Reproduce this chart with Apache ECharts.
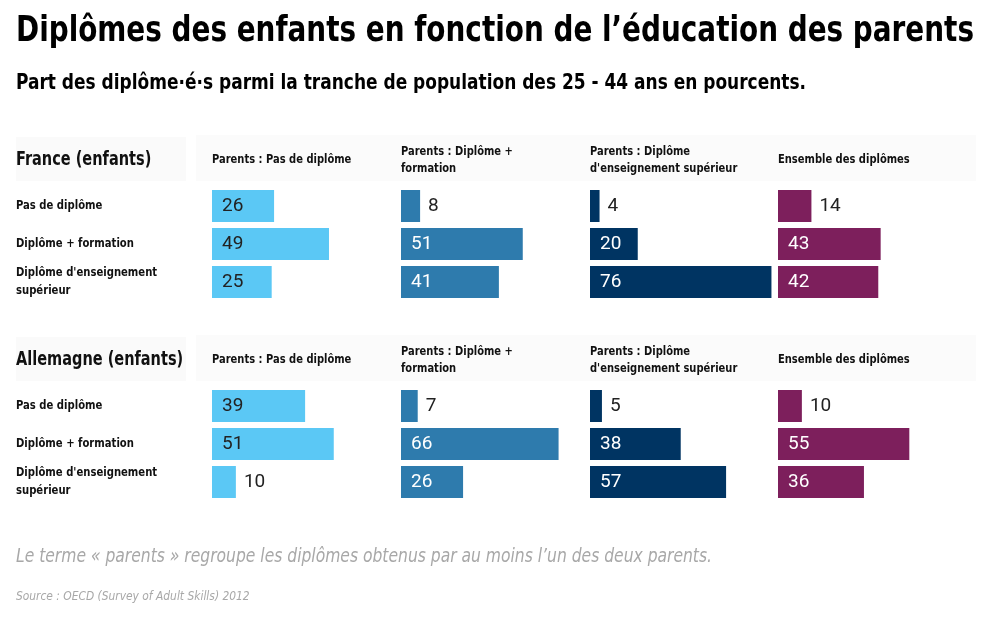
<!DOCTYPE html>
<html>
<head>
<meta charset="utf-8">
<script src="https://cdn.jsdelivr.net/npm/echarts@6/dist/echarts.min.js"></script>
<style>
  html, body { margin: 0; padding: 0; background: #fff; }
  #chart { width: 983px; height: 620px; }
</style>
</head>
<body>
<div id="chart"></div>
<script>
// categories (rows) and columns
var rowLabels = ['Pas de diplôme', 'Diplôme + formation', 'Diplôme d\'enseignement\nsupérieur']
var columnLabels = [
  'Parents : Pas de diplôme',
  'Parents : Diplôme +\nformation',
  'Parents : Diplôme\nd\'enseignement supérieur',
  'Ensemble des diplômes'
]
var countryLabels = ['France (enfants)', 'Allemagne (enfants)']

// France
var frParentsSansDiplome = [26, 49, 25]
var frParentsFormation = [8, 51, 41]
var frParentsSuperieur = [4, 20, 76]
var frEnsemble = [14, 43, 42]

// Allemagne
var deParentsSansDiplome = [39, 51, 10]
var deParentsFormation = [7, 66, 26]
var deParentsSuperieur = [5, 38, 57]
var deEnsemble = [10, 55, 36]

var colors = ['#5bc8f5', '#2e7bad', '#003462', '#7d1f5c']
var labelColors = ['#222', '#fff', '#fff', '#fff']

var panels = [
  [frParentsSansDiplome, frParentsFormation, frParentsSuperieur, frEnsemble],
  [deParentsSansDiplome, deParentsFormation, deParentsSuperieur, deEnsemble]
]

var font = '"DejaVu Sans Condensed", "DejaVu Sans", sans-serif'
var colLeft = [212, 401, 590, 778]
var panelTop = [187, 387]

var grids = []
var xAxes = []
var yAxes = []
var series = []
var graphics = []

// condensed text: DejaVu squeezed horizontally
function txt(x, y, text, size, opts) {
  opts = opts || {}
  return {
    type: 'text', x: x, y: y, scaleX: opts.scale || 0.86, z: 10,
    style: {
      text: text,
      font: (opts.style || 'bold') + ' ' + size + 'px ' + font,
      fill: opts.color || '#111',
      lineHeight: opts.lineHeight || size * 1.3,
      align: 'left',
      verticalAlign: 'middle'
    }
  }
}

panels.forEach(function (cols, p) {
  var top = panelTop[p]
  // faint header bands
  graphics.push({
    type: 'rect', x: 16, y: top - 50, z: -1,
    shape: { width: 170, height: 44 }, style: { fill: '#fafafa' }
  })
  graphics.push({
    type: 'rect', x: 196, y: top - 52, z: -1,
    shape: { width: 780, height: 46 }, style: { fill: '#fbfbfb' }
  })
  graphics.push(txt(16, top - 27, countryLabels[p], 19, { scale: 0.85 }))
  rowLabels.forEach(function (r, i) {
    graphics.push(txt(16, top + 19 + i * 38, r, 13, { scale: 0.86, lineHeight: 18 }))
  })
  cols.forEach(function (values, c) {
    var idx = grids.length
    grids.push({ left: colLeft[c], top: top, width: 191, height: 114 })
    xAxes.push({ gridIndex: idx, type: 'value', min: 0, max: 80, show: false })
    yAxes.push({
      gridIndex: idx, type: 'category', inverse: true, data: rowLabels, show: false
    })
    graphics.push(txt(colLeft[c], top - 27, columnLabels[c], 13, { scale: 0.85, lineHeight: 17 }))
    series.push({
      type: 'bar', xAxisIndex: idx, yAxisIndex: idx, barWidth: 32,
      itemStyle: { color: colors[c] },
      silent: true,
      data: values.map(function (v) {
        var outside = v <= 14
        return {
          value: v,
          label: {
            show: true,
            position: outside ? 'right' : 'insideLeft',
            distance: outside ? 8 : 10,
            color: outside ? '#222' : labelColors[c],
            fontSize: 19,
            fontFamily: 'Roboto, sans-serif'
          }
        }
      })
    })
  })
})

graphics.push(txt(16, 32, 'Diplômes des enfants en fonction de l’éducation des parents', 35, { scale: 0.885, color: '#000' }))
graphics.push(txt(16, 84, 'Part des diplôme·é·s parmi la tranche de population des 25 - 44 ans en pourcents.', 21, { scale: 0.9, color: '#000' }))
graphics.push(txt(16, 557, 'Le terme « parents » regroupe les diplômes obtenus par au moins l’un des deux parents.', 19, { style: 'italic', scale: 0.91, color: '#a8a8a8' }))
graphics.push(txt(16, 597, 'Source : OECD (Survey of Adult Skills) 2012', 12, { style: 'italic', scale: 0.99, color: '#a8a8a8' }))

var chart = echarts.init(document.getElementById('chart'), null, { renderer: 'canvas' })
chart.setOption({
  backgroundColor: '#fff',
  animation: false,
  grid: grids,
  xAxis: xAxes,
  yAxis: yAxes,
  series: series,
  graphic: graphics
})
</script>
</body>
</html>
